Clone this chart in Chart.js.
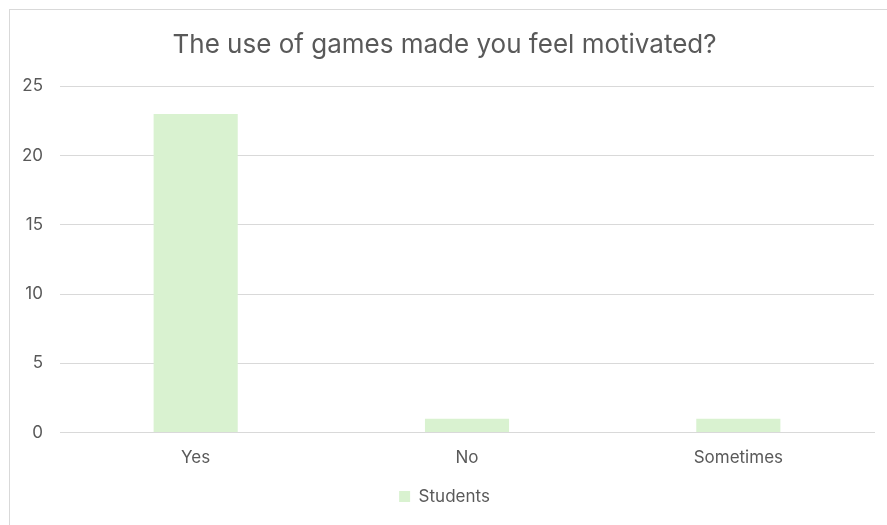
<!DOCTYPE html>
<html>
<head>
<meta charset="utf-8">
<script src="https://cdn.jsdelivr.net/npm/chart.js@4.4.1/dist/chart.umd.min.js"></script>
<style>
  html, body { margin: 0; padding: 0; background: #fff; overflow: hidden; }
  #frame { position: absolute; left: 9px; top: 9px; width: 900px; height: 540px; border: 1px solid #d9d9d9; box-sizing: border-box; }
  #wrap { position: absolute; left: 0; top: 0; width: 887px; height: 525px; }
</style>
</head>
<body>
<div id="frame"></div>
<div id="wrap"><canvas id="chart"></canvas></div>
<script>
var categories = ["Yes", "No", "Sometimes"];
var students = [23, 1, 1];
var yTicks = [0, 5, 10, 15, 20, 25];

var textColor = "#595959";
var fontFamily = "Inter, 'Open Sans', sans-serif";

var ctx = document.getElementById("chart");

var chart = new Chart(ctx, {
  type: "bar",
  data: {
    labels: categories,
    datasets: [{
      label: "Students",
      data: students,
      backgroundColor: "#d9f2d0",
      borderWidth: 0,
      categoryPercentage: 1,
      barPercentage: 0.31
    }]
  },
  options: {
    responsive: true,
    maintainAspectRatio: false,
    animation: false,
    layout: { padding: { left: 15, right: 13, top: 30, bottom: 10 } },
    plugins: {
      title: {
        display: true,
        text: "The use of games made you feel motivated?",
        color: textColor,
        font: { family: fontFamily, size: 26, weight: "normal" },
        padding: { top: 0, bottom: 25 }
      },
      legend: {
        position: "bottom",
        labels: {
          color: textColor,
          font: { family: fontFamily, size: 17 },
          boxWidth: 11,
          boxHeight: 11,
          padding: 13
        }
      },
      tooltip: { enabled: false }
    },
    scales: {
      x: {
        grid: { display: false },
        border: { color: "#d9d9d9", width: 1 },
        ticks: {
          color: textColor,
          font: { family: fontFamily, size: 17 },
          padding: 7
        }
      },
      y: {
        min: 0,
        max: 25,
        afterBuildTicks: function (axis) {
          axis.ticks = yTicks.map(function (v) { return { value: v }; });
        },
        afterFit: function (axis) { axis.width = 45; },
        grid: { color: "#d9d9d9", drawTicks: false },
        border: { display: false },
        ticks: {
          color: textColor,
          font: { family: fontFamily, size: 17 },
          padding: 17
        }
      }
    }
  }
});
</script>
</body>
</html>
